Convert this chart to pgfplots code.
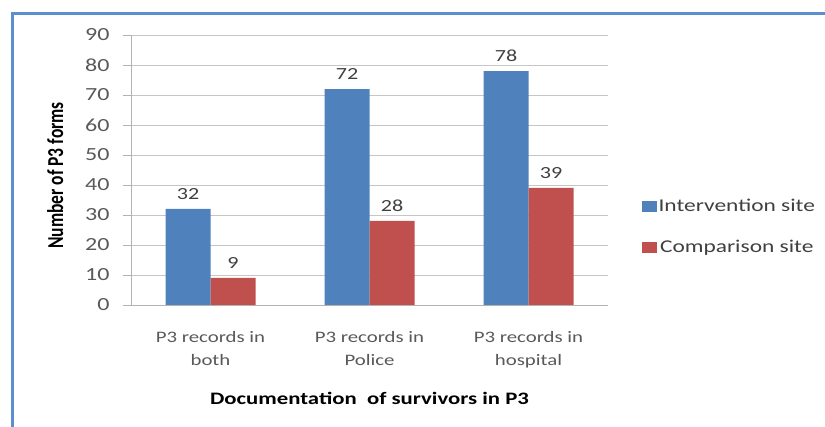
\documentclass[border=0pt]{standalone}
\usepackage{fontspec}
\setmainfont{Carlito}
\newfontfamily\wfont{Carlito}[FakeStretch=1.3]
\usepackage{pgfplots}
\pgfplotsset{compat=1.18}
\definecolor{bblue}{HTML}{4F81BD}
\definecolor{bred}{HTML}{C0504D}
\definecolor{frame}{HTML}{5B8FD0}
\definecolor{tickc}{HTML}{595959}
\begin{document}
\begin{tikzpicture}
\path[use as bounding box] (0pt,0pt) rectangle (825pt,427pt);
\draw[frame,line width=3pt] (12.5pt,0pt) -- (12.5pt,413.5pt) -- (825pt,413.5pt);
\begin{axis}[
  at={(131pt,122pt)}, anchor=south west,
  scale only axis, width=477pt, height=270pt,
  ybar, bar width=45pt,
  xmin=-0.5, xmax=2.5, ymin=0, ymax=90,
  ytick={0,10,...,90},
  xtick={0,1,2},
  xticklabels={P3 records in\\both, P3 records in\\Police, P3 records in\\hospital},
  xticklabel style={align=center, font=\wfont\fontsize{16}{23}\selectfont, text=tickc, yshift=-15pt},
  yticklabel style={font=\wfont\fontsize{18.5}{20}\selectfont, text=tickc, xshift=-10pt},
  /pgf/number format/assume math mode=true,
  major x tick style={draw=none},
  ytick style={draw=gray!60},
  major tick length=8pt,
  tick align=outside,
  ymajorgrids, grid style={gray!45, line width=0.8pt},
  axis x line*=bottom, axis y line*=left,
  axis line style={gray!60, line width=0.8pt},
  x axis line style={-}, y axis line style={-},
  ylabel={\textbf{Number of P3 forms}},
  ylabel style={font=\fontsize{17.5}{20}\selectfont, at={(axis description cs:-0.159,0.48)}, anchor=center, yscale=1.3},
  xlabel={\textbf{Documentation\ \ of survivors in P3}},
  xlabel style={font=\wfont\fontsize{17.5}{20}\selectfont, at={(axis description cs:0.5,0)}, anchor=center, yshift=-93pt},
  nodes near coords,
  nodes near coords style={font=\wfont\fontsize{17}{19}\selectfont, text=black!75, yshift=6pt},
  legend style={at={(1.07,0.29)}, anchor=west, draw=none, inner sep=0pt, font=\wfont\fontsize{18}{20}\selectfont, text=black!75, row sep=23pt, /tikz/every even column/.append style={column sep=3pt}},
  legend image code/.code={\fill[#1] (0pt,-5.5pt) rectangle (15pt,5.5pt);},
  clip=false,
]
\addplot[fill=bblue, draw=none, bar shift=-22.5pt] coordinates {(0,32) (1,72) (2,78)};
\addplot[fill=bred, draw=none, bar shift=22.5pt] coordinates {(0,9) (1,28) (2,39)};
\legend{Intervention site, Comparison site}
\end{axis}
\end{tikzpicture}
\end{document}
